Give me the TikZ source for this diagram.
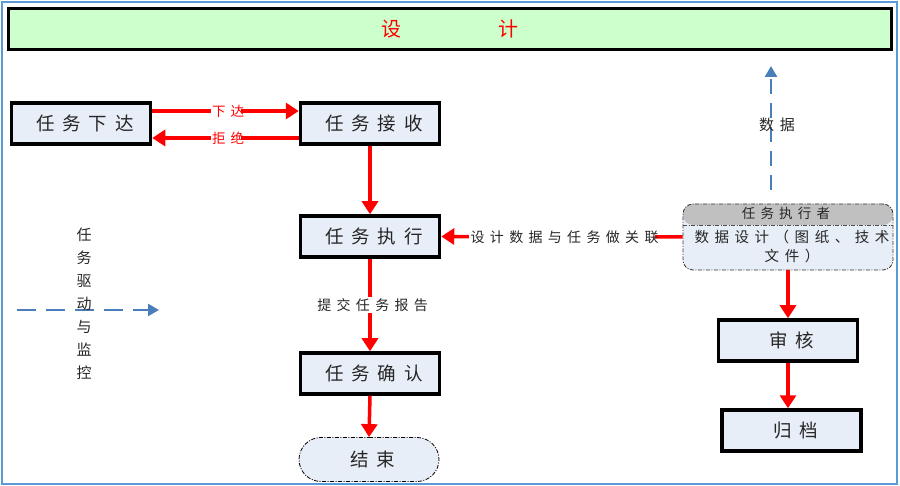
\documentclass[tikz,border=0pt]{standalone}
\usepackage{fontspec}
\setmainfont{Noto Sans CJK SC}
\newfontfamily\cjkA[LetterSpace=42]{Noto Sans CJK SC}
\newfontfamily\cjkB[LetterSpace=38]{Noto Sans CJK SC}
\usetikzlibrary{arrows.meta,shapes.misc}
\definecolor{boxfill}{HTML}{E8EEF7}
\definecolor{headgreen}{HTML}{CCFFCC}
\definecolor{dblue}{HTML}{4A7EBB}
\definecolor{frameblue}{HTML}{5B9BD5}
\definecolor{redline}{HTML}{FF0000}
\definecolor{headgray}{HTML}{C0C0C0}
\tikzset{
  taskbox/.style={draw=black, line width=3.5pt, fill=boxfill, minimum width=139pt, minimum height=41pt, inner sep=0pt,
    text=black!85, font=\cjkA\fontsize{18.5}{18.5}\selectfont, execute at end node={\hspace{-.42em}}},
  redarrow/.style={draw=redline, line width=3.5pt, -{Triangle[length=13pt,width=16pt]}},
  bluearrow/.style={draw=dblue, line width=2.5pt, dash pattern=on 15pt off 9pt, -{Triangle[length=11pt,width=12pt]}},
  redlabel/.style={fill=white, text=redline, inner sep=1.5pt, font=\cjkB\fontsize{13.5}{13.5}\selectfont, execute at end node={\hspace{-.38em}}},
  blacklabel/.style={fill=white, text=black!85, inner sep=1.5pt, font=\cjkB\fontsize{14}{14}\selectfont, execute at end node={\hspace{-.38em}}},
  plainlabel/.style={text=black!85, inner sep=0pt, font=\cjkB\fontsize{14}{14}\selectfont},
  dashdot/.style={dash pattern=on 4pt off 1.5pt on 1pt off 1.5pt},
}
\begin{document}
\begin{tikzpicture}[x=1pt,y=-1pt]
\useasboundingbox (0,0) rectangle (900,486);
\draw[frameblue, line width=1.5pt] (2,2) rectangle (897,484);
% header
\node[draw=black, line width=3pt, fill=headgreen, minimum width=883pt, minimum height=41pt, inner sep=0pt,
  text=redline, font=\fontsize{20}{20}\selectfont] (head) at (450,29) {设\hspace{97pt}计};
% boxes
\node[taskbox] (xd) at (81,123.5) {任务下达};
\node[taskbox] (js) at (370,123.5) {任务接收};
\node[taskbox] (zx) at (370,236.5) {任务执行};
\node[taskbox] (qr) at (370,373.5) {任务确认};
\node[draw=black, line width=0.8pt, dashdot, fill=boxfill, rounded rectangle, minimum width=140pt, minimum height=44pt, inner sep=0pt,
  text=black!85, font=\cjkA\fontsize{18.5}{18.5}\selectfont, execute at end node={\hspace{-.42em}}] (end) at (369,459.5) {结束};
\node[taskbox] (sh) at (788,340.5) {审核};
\node[taskbox] (gd) at (791.5,430.5) {归档};
% executor box
\node[draw=black!80, line width=0.8pt, dashdot, rounded corners=10pt, fill=boxfill, minimum width=210pt, minimum height=66pt, inner sep=0pt,
  path picture={\fill[headgray] (path picture bounding box.north west) rectangle ([yshift=-21pt]path picture bounding box.north east);
    \draw[black!70, line width=0.6pt] ([yshift=-21pt]path picture bounding box.north west) -- ([yshift=-21pt]path picture bounding box.north east);}]
  (ze) at (788,237) {};
\node[plainlabel, font=\cjkB\fontsize{13.5}{13.5}\selectfont] (zeh) at (786,213.5) {任务执行者};
\node[plainlabel, align=center, font=\cjkB\fontsize{14.5}{19}\selectfont] (zeb) at (792,246) {数据设计（图纸、技术\\文件）};
% red arrows
\draw[redarrow] ([yshift=12.5pt]xd.east) -- node[redlabel] {下达} ([yshift=12.5pt]js.west);
\draw[redarrow] ([yshift=-14.5pt]js.west) -- node[redlabel] {拒绝} ([yshift=-14.5pt]xd.east);
\draw[redarrow] (js.south) -- (zx.north);
\draw[redarrow] (zx.south) -- node[blacklabel] {提交任务报告} (qr.north);
\draw[redarrow] (qr.south) -- (end.north);
\draw[redarrow] (ze.west) -- node[blacklabel] {设计数据与任务做关联} (zx.east);
\draw[redarrow] (ze.south) -- (sh.north);
\draw[redarrow] (sh.south) -- ([xshift=-3.5pt]gd.north);
% blue dashed arrows
\coordinate (du0) at (771,190);
\coordinate (du1) at (771,66);
\draw[bluearrow] (du0) -- (du1);
\node[plainlabel, font=\cjkB\fontsize{15}{15}\selectfont] (dulab) at (777,125) {数据};
\coordinate (lf0) at (17,310);
\coordinate (lf1) at (159,310);
\draw[bluearrow, dash pattern=on 19pt off 10pt] (lf0) -- (lf1);
\node[plainlabel, align=center, font=\fontsize{15}{23}\selectfont] (vlab) at (84,304) {任\\务\\驱\\动\\与\\监\\控};
\end{tikzpicture}
\end{document}
